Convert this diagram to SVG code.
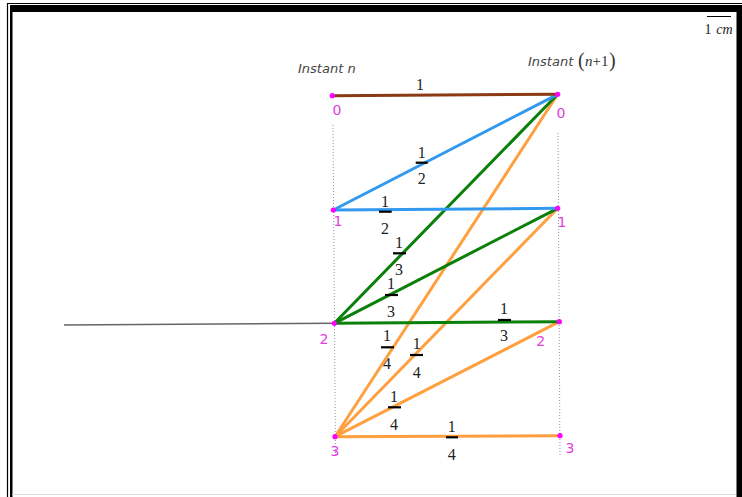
<svg xmlns="http://www.w3.org/2000/svg" width="742" height="497" viewBox="0 0 742 497">
<style>
.fr{font-family:"Liberation Serif","DejaVu Serif",serif;font-size:16px;fill:#222;text-anchor:middle}
.bar{stroke:#000;stroke-width:2.2}
.pl{font-family:"DejaVu Sans","Liberation Sans",sans-serif;font-size:14px;fill:#e040e0;text-anchor:middle}
.pt{fill:#ff00ff}
.dot{stroke:#9090b0;stroke-width:1;stroke-dasharray:1 2;fill:none}
.e{fill:none;stroke-width:3;stroke-linecap:round}
.brown{stroke:#8b3a14}.blue{stroke:#3399ee}.green{stroke:#0a800a}.orange{stroke:#ffa040}
.lab{font-family:"DejaVu Sans","Liberation Sans",sans-serif;font-style:italic;font-size:13px;fill:#444}
</style>
<rect x="0" y="0" width="742" height="497" fill="#fff"/>
<g id="frame">
<line x1="7.5" y1="3" x2="7.5" y2="497" stroke="#000" stroke-width="1.2"/>
<line x1="7" y1="3.5" x2="742" y2="3.5" stroke="#000" stroke-width="1.2"/>
<rect x="10" y="5" width="732" height="7" fill="#000"/>
<rect x="10" y="5" width="2.5" height="492" fill="#000"/>
<rect x="736.5" y="5" width="5.5" height="492" fill="#000"/>
<line x1="12" y1="494.5" x2="736" y2="494.5" stroke="#ddd" stroke-width="1"/>
</g>
<g id="scale">
<line x1="707" y1="16.5" x2="731" y2="16.5" stroke="#000" stroke-width="1"/>
<text x="708" y="34" font-family="Liberation Serif,serif" font-size="14" fill="#222" text-anchor="middle">1</text>
<text x="724.5" y="34" font-family="Liberation Serif,serif" font-style="italic" font-size="14" fill="#222" text-anchor="middle">cm</text>
</g>
<g id="title-n"><text class="lab" x="298" y="73">Instant n</text></g>
<g id="title-n1">
<text class="lab" x="528" y="66">Instant</text>
<text x="578" y="67" font-family="Liberation Serif,serif" font-size="20" fill="#333">(</text>
<text x="585" y="66" font-family="Liberation Serif,serif" font-size="15" fill="#333"><tspan font-style="italic">n</tspan>+1</text>
<text x="609" y="67" font-family="Liberation Serif,serif" font-size="20" fill="#333">)</text>
</g>
<g id="guides">
<line class="dot" x1="333" y1="125" x2="335.5" y2="458"/>
<line class="dot" x1="558" y1="133" x2="560" y2="457"/>
<line x1="64" y1="325" x2="334" y2="323.3" stroke="#666" stroke-width="1.6"/>
</g>
<g id="connectors">
<line class="e orange" x1="335" y1="436.7" x2="557.7" y2="94.3"/>
<line class="e orange" x1="335" y1="436.7" x2="557.7" y2="208.3"/>
<line class="e orange" x1="335" y1="436.7" x2="559.3" y2="321.7"/>
<line class="e orange" x1="335" y1="436.7" x2="560" y2="435.7"/>
<line class="e green" x1="334.3" y1="323.3" x2="557.7" y2="94.3"/>
<line class="e green" x1="334.3" y1="323.3" x2="557.7" y2="208.3"/>
<line class="e green" x1="334.3" y1="323.3" x2="559.3" y2="321.7"/>
<line class="e blue" x1="333.3" y1="210" x2="557.7" y2="94.3"/>
<line class="e blue" x1="333.3" y1="210" x2="557.7" y2="208.3"/>
<line class="e brown" x1="332.3" y1="95.7" x2="557.7" y2="94.3"/>
</g>
<g id="edge-labels">
<text class="fr" x="420" y="89.5">1</text>
<g><text class="fr" x="421.7" y="157.5">1</text><line class="bar" x1="415.7" y1="162.7" x2="427.7" y2="162.7"/><text class="fr" x="421.7" y="183.5">2</text></g>
<g><text class="fr" x="385" y="206.5">1</text><line class="bar" x1="379" y1="211.7" x2="391.7" y2="211.7"/><text class="fr" x="385" y="233.5">2</text></g>
<g><text class="fr" x="399" y="247.5">1</text><line class="bar" x1="393" y1="253.3" x2="406" y2="253.3"/><text class="fr" x="399" y="274.5">3</text></g>
<g><text class="fr" x="391" y="288.5">1</text><line class="bar" x1="385" y1="295" x2="398" y2="295"/><text class="fr" x="391" y="316.5">3</text></g>
<g><text class="fr" x="504" y="313.5">1</text><line class="bar" x1="498" y1="320" x2="511" y2="320"/><text class="fr" x="504" y="340.5">3</text></g>
<g><text class="fr" x="387" y="340.5">1</text><line class="bar" x1="381" y1="347.3" x2="394" y2="347.3"/><text class="fr" x="387" y="368.5">4</text></g>
<g><text class="fr" x="416.7" y="348.5">1</text><line class="bar" x1="410" y1="355" x2="423" y2="355"/><text class="fr" x="416.7" y="377.5">4</text></g>
<g><text class="fr" x="394" y="401.5">1</text><line class="bar" x1="388" y1="407.3" x2="401" y2="407.3"/><text class="fr" x="394" y="429.5">4</text></g>
<g><text class="fr" x="451.7" y="431.5">1</text><line class="bar" x1="446" y1="437.3" x2="458" y2="437.3"/><text class="fr" x="451.7" y="459.5">4</text></g>
</g>
<g id="L0"><circle class="pt" cx="332.3" cy="95.7" r="2.6"/><text class="pl" x="337" y="114.5">0</text></g>
<g id="L1"><circle class="pt" cx="333.3" cy="210" r="2.6"/><text class="pl" x="338" y="226">1</text></g>
<g id="L2"><circle class="pt" cx="334.3" cy="323.3" r="2.6"/><text class="pl" x="324" y="343.5">2</text></g>
<g id="L3"><circle class="pt" cx="335" cy="436.7" r="2.6"/><text class="pl" x="335" y="456">3</text></g>
<g id="R0"><circle class="pt" cx="557.7" cy="94.3" r="2.6"/><text class="pl" x="561" y="118">0</text></g>
<g id="R1"><circle class="pt" cx="557.7" cy="208.3" r="2.6"/><text class="pl" x="562" y="227">1</text></g>
<g id="R2"><circle class="pt" cx="559.3" cy="321.7" r="2.6"/><text class="pl" x="540.7" y="345.5">2</text></g>
<g id="R3"><circle class="pt" cx="560" cy="435.7" r="2.6"/><text class="pl" x="570" y="453">3</text></g>
</svg>
